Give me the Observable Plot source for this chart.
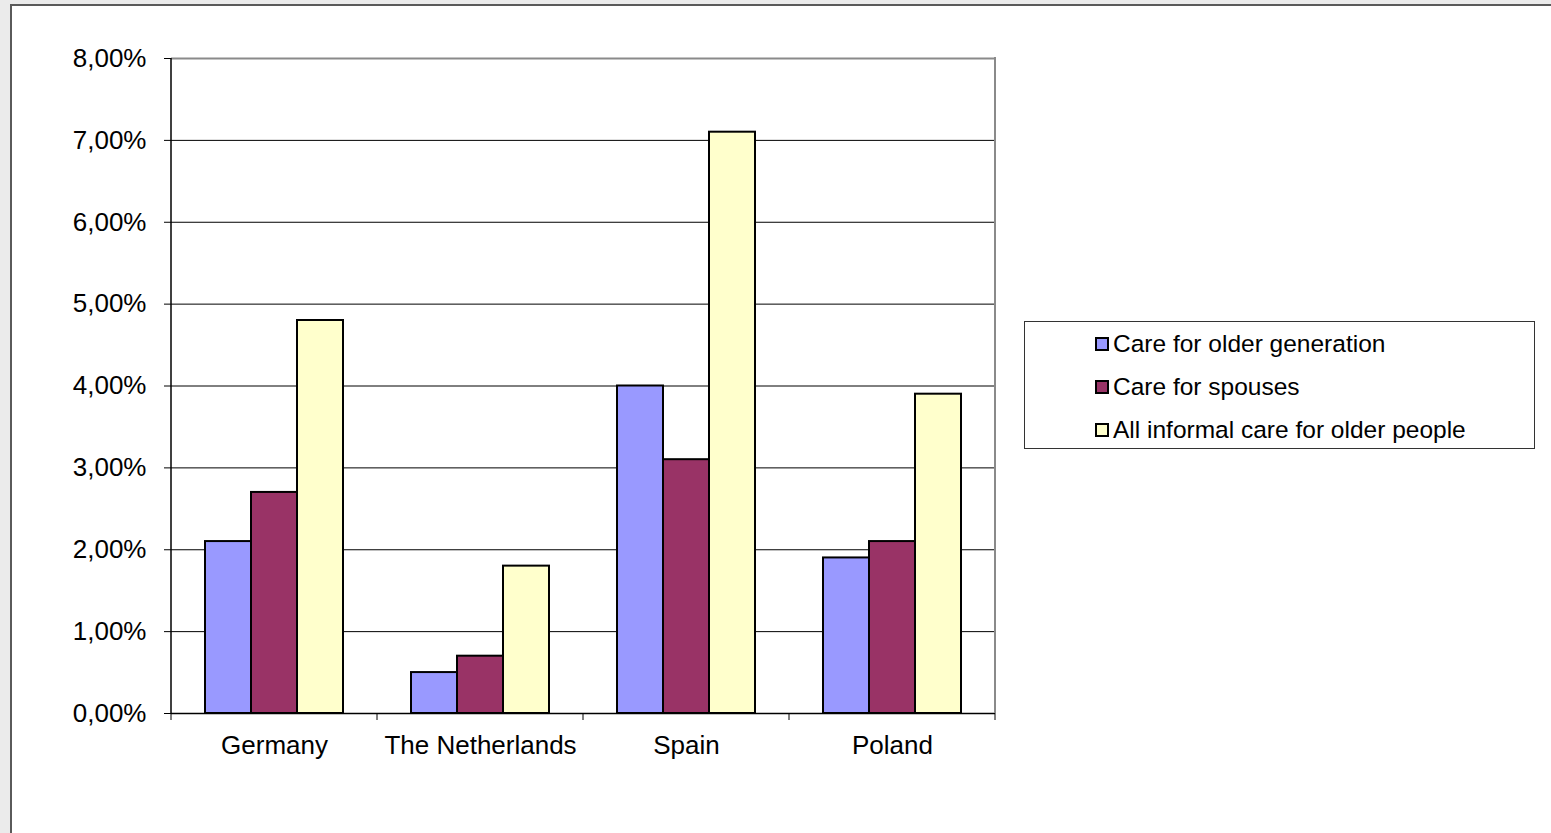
<!DOCTYPE html>
<html>
<head>
<meta charset="utf-8">
<script src="https://cdn.jsdelivr.net/npm/d3@7"></script>
<script src="https://cdn.jsdelivr.net/npm/@observablehq/plot@0.6"></script>
<style>
  html, body { margin: 0; padding: 0; width: 1551px; height: 833px; overflow: hidden; background: #ebebeb; }
  #sheet { position: absolute; left: 10px; top: 4px; width: 1700px; height: 1000px; background: #fff;
           border-left: 2px solid #5a5a5a; border-top: 2px solid #5a5a5a; }
  #chart { position: absolute; left: 0; top: 0; }
  #legend { position: absolute; left: 1024px; top: 321px; width: 509px; height: 126px; border: 1px solid #333;
            background: #fff; font-family: "Liberation Sans", Arial, sans-serif; font-size: 24.5px; color: #000; }
  .item { height: 43px; display: flex; align-items: center; padding-left: 70px; }
  .sw { width: 10px; height: 10px; border: 2px solid #000; margin-right: 4px; flex: none; }
</style>
</head>
<body>
<div id="sheet"></div>
<div id="chart"></div>
<div id="legend"></div>
<script>
// Share of population providing informal care, by country and type of care (%)
const countries = ["Germany", "The Netherlands", "Spain", "Poland"];
const series = ["Care for older generation", "Care for spouses", "All informal care for older people"];
const colors = ["#9999ff", "#993366", "#ffffcc"];
const olderGeneration = [2.1, 0.5, 4.0, 1.9];
const spouses = [2.7, 0.7, 3.1, 2.1];
const allInformal = [4.8, 1.8, 7.1, 3.9];
const yTicks = [0, 1, 2, 3, 4, 5, 6, 7, 8];

const values = [olderGeneration, spouses, allInformal];
const rows = [];
countries.forEach((c, i) => series.forEach((s, j) => rows.push({country: c, series: s, value: values[j][i]})));

const fmt = d => d.toFixed(2).replace(".", ",") + "%";

const svg = Plot.plot({
  width: 1551,
  height: 833,
  marginLeft: 171,
  marginRight: 556,
  marginTop: 58,
  marginBottom: 120,
  style: {fontFamily: "Liberation Sans, Arial, sans-serif", fontSize: "26px", color: "#000", background: "transparent"},
  fx: {domain: countries, padding: 0, label: null, axis: "bottom", tickSize: 0, tickPadding: 22},
  x: {domain: series, paddingInner: 0, paddingOuter: 0.739, axis: null},
  y: {domain: [0, 8], ticks: yTicks, tickFormat: fmt, tickSize: 7, tickPadding: 18, label: null},
  color: {domain: series, range: colors},
  marks: [
    Plot.ruleY(yTicks.slice(1, -1), {stroke: "#000", strokeWidth: 1}),
    Plot.ruleY([yTicks[yTicks.length - 1]], {stroke: "#8a8a8a", strokeWidth: 2}),
    Plot.barY(rows, {fx: "country", x: "series", y: "value", fill: "series", stroke: "#000", strokeWidth: 2}),
    Plot.ruleY([0], {stroke: "#000", strokeWidth: 1.5})
  ]
});
document.getElementById("chart").appendChild(svg);

// Plot frame pieces derived from the scales: y axis line, right border, category boundary ticks
const fx = svg.scale("fx");
const y = svg.scale("y");
const [x0, x1] = fx.range;
const [yb, yt] = [y.apply(0), y.apply(8)];
const g = d3.select(svg).append("g");
g.append("line").attr("x1", x0).attr("x2", x0).attr("y1", yt).attr("y2", yb + 1)
  .attr("stroke", "#000").attr("stroke-width", 1.5);
g.append("line").attr("x1", x1).attr("x2", x1).attr("y1", yt - 1).attr("y2", yb)
  .attr("stroke", "#8a8a8a").attr("stroke-width", 2);
const step = (x1 - x0) / countries.length;
d3.range(countries.length + 1).forEach(i => {
  const xx = x0 + i * step;
  g.append("line").attr("x1", xx).attr("x2", xx).attr("y1", yb).attr("y2", yb + 7)
    .attr("stroke", "#000").attr("stroke-width", 1);
});

// Legend
const legend = d3.select("#legend");
series.forEach((s, i) => {
  const it = legend.append("div").attr("class", "item");
  it.append("div").attr("class", "sw").style("background", colors[i]);
  it.append("span").text(s);
});
</script>
</body>
</html>
